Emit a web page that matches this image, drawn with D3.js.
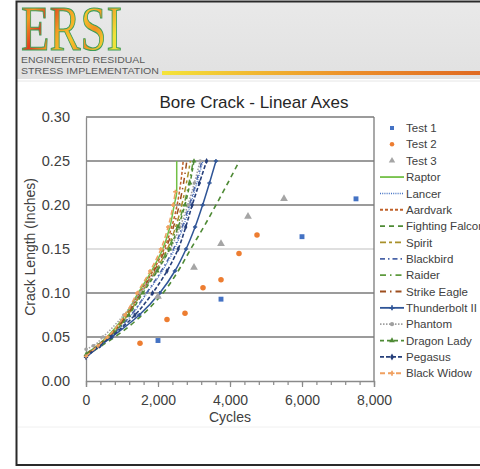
<!DOCTYPE html>
<html><head><meta charset="utf-8">
<script src="https://cdn.jsdelivr.net/npm/d3@7"></script>
<style>html,body{margin:0;padding:0;background:#fff;overflow:hidden}svg{display:block}</style>
</head><body>
<script>
// ---------- DATA ----------
const xTicks = [0, 2000, 4000, 6000, 8000];
const yTicks = [0, 0.05, 0.10, 0.15, 0.20, 0.25, 0.30];
const test1 = [[2000,0.046],[3750,0.093],[6000,0.164],[7500,0.207]];
const test2 = [[1500,0.043],[2250,0.070],[2750,0.077],[3250,0.106],[3750,0.115],[4250,0.145],[4750,0.166]];
const test3 = [[2000,0.096],[3000,0.129],[3750,0.156],[4500,0.187],[5500,0.207]];
const raptor = [[0,0.030],[300,0.04],[580,0.05],[1090,0.075],[1450,0.10],[1820,0.125],[2130,0.15],[2330,0.175],[2450,0.20],[2520,0.215],[2520,0.25]];
const lancer = [[0,0.028],[360,0.04],[680,0.05],[1270,0.075],[1700,0.10],[2120,0.125],[2460,0.15],[2700,0.175],[2900,0.20],[3080,0.225],[3250,0.25]];
const aardvark = [[0,0.029],[320,0.04],[610,0.05],[1120,0.075],[1490,0.10],[1860,0.125],[2170,0.15],[2380,0.175],[2530,0.20],[2630,0.225],[2700,0.25]];
const fightingFalcon = [[0,0.029],[430,0.04],[800,0.05],[1560,0.075],[2140,0.10],[2560,0.125],[2910,0.15],[3270,0.175],[3610,0.20],[3940,0.225],[4260,0.25]];
const spirit = [[0,0.029],[330,0.04],[640,0.05],[1160,0.075],[1540,0.10],[1930,0.125],[2260,0.15],[2490,0.175],[2660,0.20],[2790,0.225],[2900,0.25]];
const blackbird = [[0,0.029],[340,0.04],[660,0.05],[1250,0.075],[1680,0.10],[2090,0.125],[2430,0.15],[2670,0.175],[2870,0.20],[3050,0.225],[3220,0.25]];
const raider = [[0,0.031],[300,0.04],[620,0.05],[1160,0.075],[1540,0.10],[1940,0.125],[2280,0.15],[2530,0.175],[2720,0.20],[2860,0.225],[2980,0.25]];
const strikeEagle = [[0,0.030],[310,0.04],[620,0.05],[1140,0.075],[1510,0.10],[1890,0.125],[2210,0.15],[2430,0.175],[2590,0.20],[2710,0.225],[2800,0.25]];
const thunderbolt = [[0,0.027],[390,0.04],[720,0.05],[1480,0.075],[2050,0.10],[2470,0.125],[2780,0.15],[3030,0.175],[3240,0.20],[3430,0.225],[3610,0.25]];
const phantom = [[0,0.036],[200,0.04],[470,0.05],[1050,0.075],[1500,0.10],[1960,0.125],[2340,0.15],[2610,0.175],[2830,0.20],[3010,0.225],[3170,0.25]];
const dragonLady = [[0,0.030],[330,0.04],[650,0.05],[1190,0.075],[1580,0.10],[1980,0.125],[2320,0.15],[2560,0.175],[2750,0.20],[2890,0.225],[3000,0.25]];
const pegasus = [[0,0.027],[370,0.04],[690,0.05],[1360,0.075],[1850,0.10],[2250,0.125],[2560,0.15],[2770,0.175],[2950,0.20],[3150,0.225],[3350,0.25]];
const blackWidow = [[0,0.028],[330,0.04],[600,0.05],[1080,0.075],[1420,0.10],[1780,0.125],[2080,0.15],[2280,0.175],[2420,0.20],[2480,0.215]];

const testSeries = [
  {name:"Test 1", data:test1, color:"#4472c4", sym:"square"},
  {name:"Test 2", data:test2, color:"#ed7d31", sym:"circle"},
  {name:"Test 3", data:test3, color:"#a5a5a5", sym:"triangle"}
];
const lineSeries = [
  {name:"Raptor", data:raptor, color:"#72c046", dash:null, w:1.5},
  {name:"Lancer", data:lancer, color:"#4472c4", dash:"1,1.2", w:1.2},
  {name:"Aardvark", data:aardvark, color:"#c0612a", dash:"3,2", w:1.5},
  {name:"Fighting Falcon", data:fightingFalcon, color:"#4e8a35", dash:"5,4", w:1.6},
  {name:"Spirit", data:spirit, color:"#a8902a", dash:"6,3,3,3", w:1.5},
  {name:"Blackbird", data:blackbird, color:"#4a64a8", dash:"5,3,1.5,3", w:1.5},
  {name:"Raider", data:raider, color:"#5e9a3e", dash:"6,4,1.5,4", w:1.5},
  {name:"Strike Eagle", data:strikeEagle, color:"#9e4f1e", dash:"6,4,1.5,4", w:1.5},
  {name:"Thunderbolt II", data:thunderbolt, color:"#2f5597", dash:null, w:1.5, marker:"plus"},
  {name:"Phantom", data:phantom, color:"#a0a0a0", dash:"1.5,1.5", w:1.5, marker:"circle"},
  {name:"Dragon Lady", data:dragonLady, color:"#4e8a35", dash:"4,3", w:1.5, marker:"triangle"},
  {name:"Pegasus", data:pegasus, color:"#263f7a", dash:"4,2", w:1.6, marker:"diamond"},
  {name:"Black Widow", data:blackWidow, color:"#f0a060", dash:"5,3", w:1.5, marker:"plus"}
];

// ---------- DRAW ----------
const W = 480, H = 469;
const svg = d3.select("body").append("svg").attr("width", W).attr("height", H);
const defs = svg.append("defs");

// header
const hg = defs.append("linearGradient").attr("id","hdr").attr("x1",0).attr("y1",0).attr("x2",0).attr("y2",1);
hg.append("stop").attr("offset","0%").attr("stop-color","#e9e9e9");
hg.append("stop").attr("offset","100%").attr("stop-color","#e1e1e1");
svg.append("rect").attr("x",17).attr("y",2).attr("width",W-17).attr("height",77).attr("fill","url(#hdr)");
svg.append("line").attr("x1",17).attr("x2",W).attr("y1",81).attr("y2",81).attr("stroke","#e6e6e6").attr("stroke-width",1);

const lg = defs.append("linearGradient").attr("id","logo").attr("x1",0).attr("y1",0).attr("x2",1).attr("y2",0.4);
[["0%","#e5572a"],["18%","#f39a22"],["33%","#e43d1e"],["50%","#f3a223"],["65%","#f6c42c"],["80%","#f19221"],["100%","#eee23a"]]
  .forEach(s=>lg.append("stop").attr("offset",s[0]).attr("stop-color",s[1]));
svg.append("text").attr("transform","translate(21,50) scale(0.74,1)")
  .attr("font-family","Liberation Serif").attr("font-size",63).attr("fill","url(#logo)")
  .attr("stroke","#3f9d58").attr("stroke-width",1.1).text("ERSI");
svg.append("text").attr("x",21).attr("y",63).attr("font-family","Liberation Sans").attr("font-size",8.6)
  .attr("fill","#5a5a5a").attr("textLength",124).attr("lengthAdjust","spacingAndGlyphs").text("ENGINEERED RESIDUAL");
svg.append("text").attr("x",21).attr("y",73.5).attr("font-family","Liberation Sans").attr("font-size",8.6)
  .attr("fill","#5a5a5a").attr("textLength",138).attr("lengthAdjust","spacingAndGlyphs").text("STRESS IMPLEMENTATION");
const bg = defs.append("linearGradient").attr("id","bar").attr("x1",0).attr("y1",0).attr("x2",1).attr("y2",0);
[["0%","#f4e43a"],["30%","#f1b630"],["60%","#ec8e2a"],["100%","#e06a22"]].forEach(s=>bg.append("stop").attr("offset",s[0]).attr("stop-color",s[1]));
svg.append("rect").attr("x",162).attr("y",71).attr("width",W-162).attr("height",4).attr("fill","url(#bar)");

// frame
svg.append("path").attr("d",`M${W},1.5 H16.5 V465 H${W}`).attr("fill","none").attr("stroke","#2a2a2a").attr("stroke-width",2);
svg.append("line").attr("x1",18).attr("x2",W).attr("y1",427).attr("y2",427).attr("stroke","#f0f0f0");

// scales
const x = d3.scaleLinear().domain([0,8000]).range([86,374]);
const y = d3.scaleLinear().domain([0,0.30]).range([381,117]);

// gridlines
svg.append("g").selectAll("line").data(yTicks.filter(v=>v>0)).join("line")
  .attr("x1",86).attr("x2",374).attr("y1",d=>y(d)).attr("y2",d=>y(d))
  .attr("stroke",d=>Math.abs(d-0.15)<1e-9?"#d4d4d4":"#7a7a7a").attr("stroke-width",1.3);
svg.append("line").attr("x1",374).attr("x2",374).attr("y1",y(0.30)).attr("y2",y(0)).attr("stroke","#7a7a7a").attr("stroke-width",1.3);

// axes
const xAxis = d3.axisBottom(x).tickValues(xTicks).tickSize(6).tickFormat(d3.format(","));
const gx = svg.append("g").attr("transform",`translate(0,${y(0)})`).call(xAxis);
gx.select(".domain").attr("stroke","#8a8a8a").attr("stroke-width",1.3);
gx.selectAll(".tick line").attr("stroke","#8a8a8a").attr("stroke-width",1.2);
gx.selectAll(".tick text").attr("font-family","Liberation Sans").attr("font-size",14).attr("fill","#404040").attr("dy","1.1em");
const xMinor = d3.axisBottom(x).tickValues(d3.range(0,8001,400)).tickSize(4).tickFormat("");
const gxm = svg.append("g").attr("transform",`translate(0,${y(0)})`).call(xMinor);
gxm.select(".domain").remove();
gxm.selectAll(".tick line").attr("stroke","#8a8a8a").attr("stroke-width",1.2);

const yAxis = d3.axisLeft(y).tickValues(yTicks).tickSize(0).tickPadding(16).tickFormat(d3.format(".2f"));
const gy = svg.append("g").attr("transform","translate(86,0)").call(yAxis);
gy.select(".domain").attr("stroke","#8a8a8a").attr("stroke-width",1.3);
gy.selectAll(".tick text").attr("font-family","Liberation Sans").attr("font-size",14.5).attr("fill","#404040");

// titles
svg.append("text").attr("x",254).attr("y",108).attr("text-anchor","middle")
  .attr("font-family","Liberation Sans").attr("font-size",17).attr("fill","#262626").text("Bore Crack - Linear Axes");
svg.append("text").attr("x",230).attr("y",422).attr("text-anchor","middle")
  .attr("font-family","Liberation Sans").attr("font-size",14).attr("fill","#404040").text("Cycles");
svg.append("text").attr("transform","translate(35,247) rotate(-90)").attr("text-anchor","middle")
  .attr("font-family","Liberation Sans").attr("font-size",14).attr("fill","#404040").text("Crack Length (Inches)");

// symbols
const symType = {square:d3.symbolSquare, circle:d3.symbolCircle, triangle:d3.symbolTriangle, diamond:d3.symbolDiamond, plus:d3.symbolCross};
function sym(kind,size){return d3.symbol().type(symType[kind]).size(size)();}

// lines
const line = d3.line().x(d=>x(d[0])).y(d=>y(d[1])).curve(d3.curveMonotoneY);
const gl = svg.append("g");
lineSeries.forEach(s=>{
  gl.append("path").datum(s.data).attr("d",line).attr("fill","none")
    .attr("stroke",s.color).attr("stroke-width",s.w).attr("stroke-dasharray",s.dash);
  if(s.marker){
    gl.append("g").selectAll("path").data(s.data).join("path")
      .attr("transform",d=>`translate(${x(d[0])},${y(d[1])})`).attr("d",sym(s.marker,10))
      .attr("fill",s.color);
  }
});

// test points
testSeries.forEach(s=>{
  svg.append("g").selectAll("path").data(s.data).join("path")
    .attr("transform",d=>`translate(${x(d[0])},${y(d[1])})`)
    .attr("d",sym(s.sym, s.sym==="triangle"?26:24)).attr("fill",s.color);
});

// legend
const leg = svg.append("g");
const ly0 = 128, ldy = 16.35;
testSeries.forEach((s,i)=>{
  const yy = ly0 + i*ldy;
  leg.append("path").attr("transform",`translate(392,${yy})`).attr("d",sym(s.sym,s.sym==="triangle"?18:16)).attr("fill",s.color);
  leg.append("text").attr("x",406).attr("y",yy).attr("dy","0.36em").attr("font-family","Liberation Sans")
    .attr("font-size",11.5).attr("fill","#404040").text(s.name);
});
lineSeries.forEach((s,j)=>{
  const yy = ly0 + (j+3)*ldy;
  leg.append("line").attr("x1",380).attr("x2",404).attr("y1",yy).attr("y2",yy)
    .attr("stroke",s.color).attr("stroke-width",s.w+0.3).attr("stroke-dasharray",s.dash);
  if(s.marker){
    leg.append("path").attr("transform",`translate(392,${yy})`).attr("d",sym(s.marker,14)).attr("fill",s.color);
  }
  leg.append("text").attr("x",406).attr("y",yy).attr("dy","0.36em").attr("font-family","Liberation Sans")
    .attr("font-size",11.5).attr("fill","#404040").text(s.name);
});
</script>
</body></html>
